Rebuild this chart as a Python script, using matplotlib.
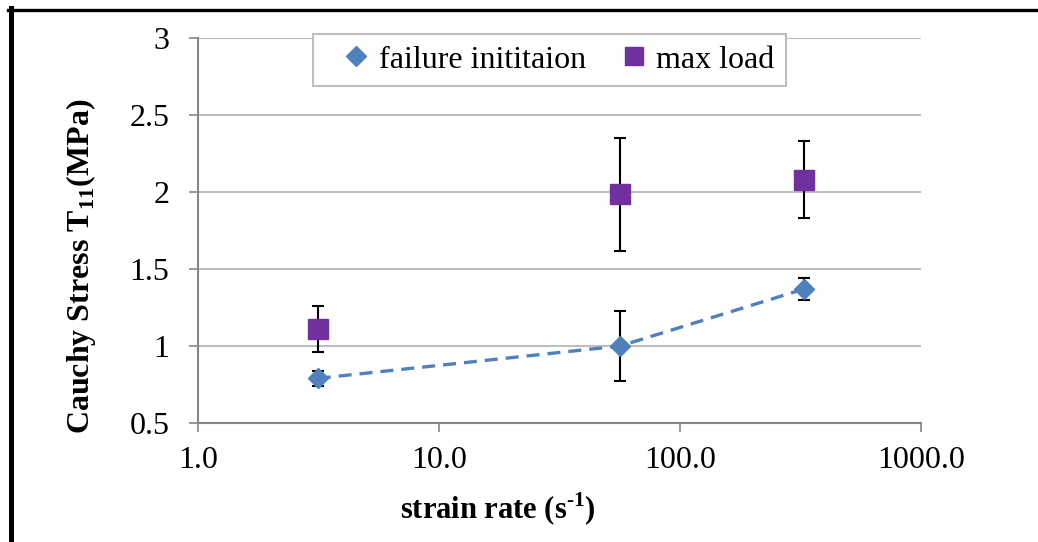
import numpy as np
import matplotlib.pyplot as plt
from matplotlib.lines import Line2D
from matplotlib.ticker import FixedLocator, FixedFormatter

# Data
strain_rate = [3.14, 56.4, 327.0]

fail_stress = [0.79, 1.00, 1.37]
fail_err_low = [0.05, 0.23, 0.07]
fail_err_high = [0.05, 0.23, 0.07]

max_stress = [1.11, 1.99, 2.08]
max_err_low = [0.15, 0.37, 0.25]
max_err_high = [0.15, 0.36, 0.25]

series_names = ['failure inititaion', 'max load']

x_ticks = [1, 10, 100, 1000]
x_tick_labels = ["1.0", "10.0", "100.0", "1000.0"]
y_ticks = [0.5, 1, 1.5, 2, 2.5, 3]
y_tick_labels = ["0.5", "1", "1.5", "2", "2.5", "3"]

plt.rcParams['font.family'] = ['Liberation Serif', 'DejaVu Serif']
plt.rcParams['mathtext.fontset'] = 'custom'
plt.rcParams['mathtext.rm'] = 'Liberation Serif:bold'
plt.rcParams['mathtext.bf'] = 'Liberation Serif:bold'

blue = '#4F81BD'
purple = '#7030A0'
axis_gray = '#868686'
grid_gray = '#BFBFBF'
fs = 23

fig = plt.figure(figsize=(10.38, 5.42), dpi=100)
ax = fig.add_axes([198 / 1038, 1 - 423 / 542, 723 / 1038, 385 / 542])

ax.set_xscale('log')
ax.set_xlim(1, 1000)
ax.set_ylim(0.5, 3)

# dashed connecting line for failure initiation
ax.plot(strain_rate, fail_stress, linestyle=(0, (3.9, 2.4)), color=blue,
        linewidth=2.4, zorder=3)

ax.errorbar(strain_rate, fail_stress, yerr=[fail_err_low, fail_err_high],
            fmt='D', color=blue, markersize=10.5, ecolor='black',
            elinewidth=1.5, capsize=4.3, capthick=1.5, linestyle='none',
            zorder=4)
ax.errorbar(strain_rate, max_stress, yerr=[max_err_low, max_err_high],
            fmt='s', color=purple, markersize=14.5, ecolor='black',
            elinewidth=1.5, capsize=4.3, capthick=1.5, linestyle='none',
            zorder=4)

ax.xaxis.set_major_locator(FixedLocator(x_ticks))
ax.xaxis.set_major_formatter(FixedFormatter(x_tick_labels))
ax.xaxis.set_minor_locator(FixedLocator([]))
ax.yaxis.set_major_locator(FixedLocator(y_ticks))
ax.yaxis.set_major_formatter(FixedFormatter(y_tick_labels))

ax.grid(axis='y', color=grid_gray, linewidth=1.5)
ax.set_axisbelow(True)
for side in ['top', 'right']:
    ax.spines[side].set_visible(False)
for side in ['left', 'bottom']:
    ax.spines[side].set_color(axis_gray)
    ax.spines[side].set_linewidth(1.5)

ax.tick_params(axis='both', which='major', direction='out', length=6.5,
               width=1.2, color=axis_gray, labelsize=fs)
ax.tick_params(axis='x', pad=10)
ax.tick_params(axis='y', pad=14)

ax.set_xlabel(r'strain rate (s$^{\text{-1}}$)', fontsize=fs - 1,
              fontweight='bold')
ax.xaxis.set_label_coords(0.415, -0.177)
ax.set_ylabel(r'Cauchy Stress T$_{11}$(MPa)', fontsize=fs,
              fontweight='bold')
ax.yaxis.set_label_coords(-0.138, 0.408)

# legend shows markers only
handles = [
    Line2D([], [], linestyle='none', marker='D', color=blue, markersize=10),
    Line2D([], [], linestyle='none', marker='s', color=purple, markersize=13),
]
leg = ax.legend(handles, series_names, loc='center',
                bbox_to_anchor=(0.486, 0.943), ncol=2, fontsize=fs,
                frameon=True, fancybox=False, framealpha=1,
                edgecolor=grid_gray, handletextpad=-0.3, columnspacing=0.5,
                handlelength=2.0, borderpad=0.35, borderaxespad=0)
leg.get_frame().set_linewidth(1.5)

# thick black frame on top and left edge
fig.add_artist(Line2D([8 / 1038, 1.0], [1 - 9.5 / 542, 1 - 9.5 / 542],
                      color='black', linewidth=2.4))
fig.add_artist(Line2D([10.5 / 1038, 10.5 / 1038], [0.0, 1 - 8 / 542],
                      color='black', linewidth=3.6))

fig.savefig('out.png', dpi=100)
